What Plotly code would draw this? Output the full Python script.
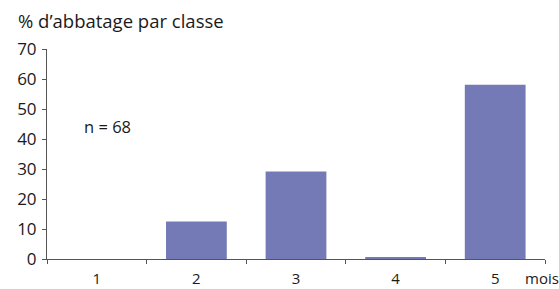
import plotly.graph_objects as go

categories = ["1", "2", "3", "4", "5"]
values = [0, 12.5, 29.2, 0.5, 58.1]
y_ticks = [0, 10, 20, 30, 40, 50, 60, 70]

font_family = "Open Sans, Lato, sans-serif"
axis_color = "#555555"

fig = go.Figure()
fig.add_trace(go.Bar(
    x=categories, y=values,
    marker=dict(color="#747ab5", line=dict(color="#9a9db8", width=0)),
    width=0.61,
))

fig.update_layout(
    width=559, height=289,
    margin=dict(l=47, r=14, t=49, b=30, autoexpand=False),
    paper_bgcolor="white", plot_bgcolor="white",
    showlegend=False,
    font=dict(family=font_family, color="#1a1a1a", size=15),
    title=dict(text="% d’abbatage par classe", x=18/559, xanchor="left",
               xref="container", yref="container", y=1-22/289, yanchor="middle",
               font=dict(size=18.5, family=font_family, color="#1a1a1a")),
)
fig.update_xaxes(
    type="category", tickson="boundaries", ticks="outside", ticklen=4,
    tickcolor=axis_color, showline=True, linecolor=axis_color, linewidth=1,
    showgrid=False, range=[-0.5, 4.5], tickfont=dict(size=15), automargin=False,
    ticklabelstandoff=6,
)
fig.update_yaxes(
    range=[0, 70], tickvals=y_ticks, ticks="outside", ticklen=4,
    tickcolor=axis_color, showline=True, linecolor=axis_color, linewidth=1,
    showgrid=False, zeroline=False, tickfont=dict(size=17), ticklabelstandoff=2,
    automargin=False,
)
fig.add_annotation(text="n = 68", xref="paper", yref="paper", x=(82-47)/498,
                   y=(259-126)/210, xanchor="left", yanchor="middle",
                   showarrow=False, font=dict(size=16.5))
fig.add_annotation(text="mois", xref="paper", yref="paper", x=1.0 + (523-545)/498,
                   y=-19/210, xanchor="left", yanchor="middle",
                   showarrow=False, font=dict(size=15))

fig.write_html("out.html", config={"displayModeBar": False},
               post_script="document.body.style.margin='0';document.body.style.padding='0';")
